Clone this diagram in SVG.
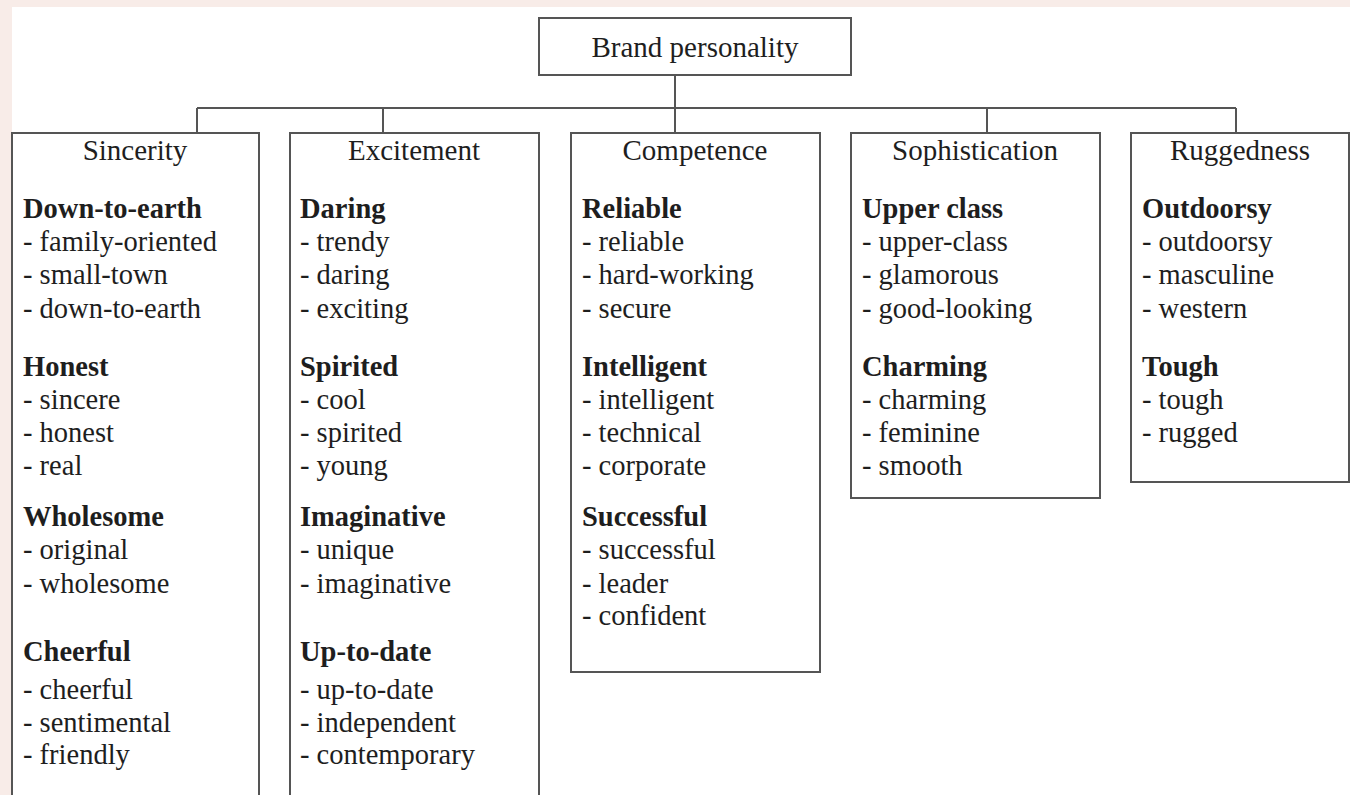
<svg xmlns="http://www.w3.org/2000/svg" width="1350" height="795" viewBox="0 0 1350 795">
<style>
.box{fill:#fff;stroke:#555;stroke-width:2}
.conn{fill:none;stroke:#555;stroke-width:2}
text{font-family:"Liberation Serif","Times New Roman",serif;font-size:28.5px;fill:#1e1e1e}
.t{font-size:29px;text-anchor:middle}
.h{font-weight:bold;font-size:28.5px}
</style>
<rect x="0" y="0" width="1350" height="795" fill="#f8ece8"/>
<rect x="12" y="7" width="1338" height="788" fill="#fff"/>
<g id="connectors">
<path class="conn" d="M675 75V108M197 108H1236M197 108V133M383 108V133M675 108V133M987 108V133M1236 108V133"/>
</g>
<g id="root">
<rect class="box" x="539" y="18" width="312" height="57"/>
<text class="t" x="695" y="57">Brand personality</text>
</g>
<g id="sincerity">
<rect class="box" x="12" y="133" width="247" height="680"/>
<text class="t" x="135" y="160">Sincerity</text>
<text class="h" x="23" y="218">Down-to-earth</text>
<text x="23" y="251">- family-oriented</text>
<text x="23" y="284">- small-town</text>
<text x="23" y="318">- down-to-earth</text>
<text class="h" x="23" y="376">Honest</text>
<text x="23" y="409">- sincere</text>
<text x="23" y="442">- honest</text>
<text x="23" y="475">- real</text>
<text class="h" x="23" y="526">Wholesome</text>
<text x="23" y="559">- original</text>
<text x="23" y="593">- wholesome</text>
<text class="h" x="23" y="661">Cheerful</text>
<text x="23" y="699">- cheerful</text>
<text x="23" y="732">- sentimental</text>
<text x="23" y="764">- friendly</text>
</g>
<g id="excitement">
<rect class="box" x="290" y="133" width="249" height="680"/>
<text class="t" x="414" y="160">Excitement</text>
<text class="h" x="300" y="218">Daring</text>
<text x="300" y="251">- trendy</text>
<text x="300" y="284">- daring</text>
<text x="300" y="318">- exciting</text>
<text class="h" x="300" y="376">Spirited</text>
<text x="300" y="409">- cool</text>
<text x="300" y="442">- spirited</text>
<text x="300" y="475">- young</text>
<text class="h" x="300" y="526">Imaginative</text>
<text x="300" y="559">- unique</text>
<text x="300" y="593">- imaginative</text>
<text class="h" x="300" y="661">Up-to-date</text>
<text x="300" y="699">- up-to-date</text>
<text x="300" y="732">- independent</text>
<text x="300" y="764">- contemporary</text>
</g>
<g id="competence">
<rect class="box" x="571" y="133" width="249" height="539"/>
<text class="t" x="695" y="160">Competence</text>
<text class="h" x="582" y="218">Reliable</text>
<text x="582" y="251">- reliable</text>
<text x="582" y="284">- hard-working</text>
<text x="582" y="318">- secure</text>
<text class="h" x="582" y="376">Intelligent</text>
<text x="582" y="409">- intelligent</text>
<text x="582" y="442">- technical</text>
<text x="582" y="475">- corporate</text>
<text class="h" x="582" y="526">Successful</text>
<text x="582" y="559">- successful</text>
<text x="582" y="593">- leader</text>
<text x="582" y="625">- confident</text>
</g>
<g id="sophistication">
<rect class="box" x="851" y="133" width="249" height="365"/>
<text class="t" x="975" y="160">Sophistication</text>
<text class="h" x="862" y="218">Upper class</text>
<text x="862" y="251">- upper-class</text>
<text x="862" y="284">- glamorous</text>
<text x="862" y="318">- good-looking</text>
<text class="h" x="862" y="376">Charming</text>
<text x="862" y="409">- charming</text>
<text x="862" y="442">- feminine</text>
<text x="862" y="475">- smooth</text>
</g>
<g id="ruggedness">
<rect class="box" x="1131" y="133" width="218" height="349"/>
<text class="t" x="1240" y="160">Ruggedness</text>
<text class="h" x="1142" y="218">Outdoorsy</text>
<text x="1142" y="251">- outdoorsy</text>
<text x="1142" y="284">- masculine</text>
<text x="1142" y="318">- western</text>
<text class="h" x="1142" y="376">Tough</text>
<text x="1142" y="409">- tough</text>
<text x="1142" y="442">- rugged</text>
</g>
</svg>
